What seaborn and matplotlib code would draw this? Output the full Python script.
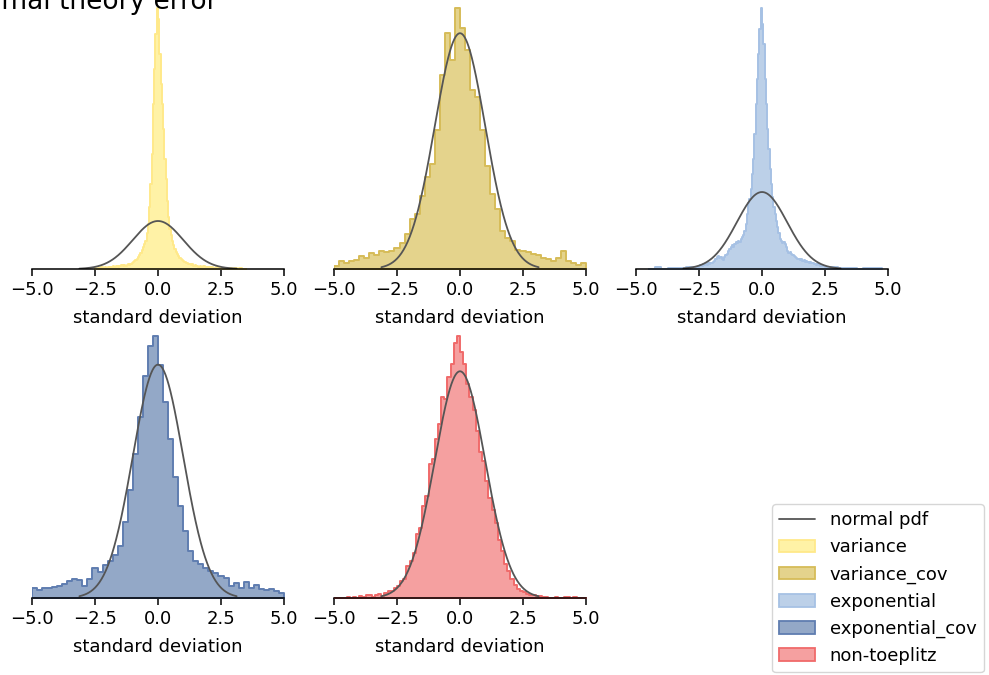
import numpy as np
import pandas as pd
import matplotlib
matplotlib.use("Agg")
import matplotlib.pyplot as plt
import seaborn as sns
from matplotlib.lines import Line2D
from matplotlib.patches import Patch

# ---------------- data ----------------
series_names = ["variance", "variance_cov", "exponential", "exponential_cov", "non-toeplitz"]

# bin edges per series
variance_edges = np.linspace(-2.5, 3.5, 121)
variance_cov_edges = np.linspace(-5.0, 5.0, 51)
exponential_edges = np.concatenate([np.linspace(-4.5, -2.5, 9),
                                    np.linspace(-2.5, 2.5, 101)[1:],
                                    np.linspace(2.5, 4.75, 10)[1:]])
exponential_cov_edges = np.linspace(-5.0, 5.0, 51)
non_toeplitz_edges = np.linspace(-5.0, 5.0, 81)

# bin heights (count units)
variance_counts = [
    1, 0, 1, 1, 1, 2, 1, 1, 2, 1,
    2, 1, 2, 2, 3, 2, 2, 3, 2, 3,
    3, 4, 3, 4, 3, 4, 5, 4, 5, 6,
    7, 8, 9, 10, 12, 14, 16, 19, 22, 25,
    28, 36, 45, 62, 85, 115, 165, 200, 235, 261,
    250, 215, 185, 165, 140, 110, 90, 68, 52, 40,
    34, 28, 24, 20, 17, 15, 13, 11, 10, 9,
    8, 7, 6, 6, 5, 5, 4, 5, 3, 4,
    3, 3, 2, 3, 2, 2, 3, 2, 2, 1,
    2, 2, 1, 2, 1, 1, 2, 1, 1, 1,
    1, 1, 0, 1, 1, 0, 1, 0, 1, 0,
    1, 0, 1, 0, 1, 0, 1, 0, 0, 0,
]
variance_cov_counts = [
    8, 23, 18, 23, 28, 38, 33, 48, 43, 53,
    51, 53, 63, 78, 103, 148, 163, 218, 273, 313,
    413, 578, 703, 623, 778, 718, 653, 533, 513, 413,
    308, 223, 178, 113, 93, 83, 58, 53, 51, 45,
    43, 33, 31, 23, 33, 53, 25, 18, 13, 18,
]
exponential_counts = [
    0, 2, 0, 1, 1, 1, 2, 2,
    3, 4, 3, 5, 4, 5, 4, 6, 5, 6,
    6, 7, 8, 10, 12, 13, 11, 12, 10, 9,
    12, 14, 15, 18, 20, 22, 24, 22, 25, 27,
    26, 28, 27, 30, 32, 34, 38, 45, 55, 66,
    70, 80, 95, 110, 135, 165, 190, 215, 240, 261,
    245, 225, 190, 165, 140, 120, 100, 85, 72, 62,
    55, 48, 42, 36, 30, 28, 26, 27, 25, 22,
    18, 16, 17, 15, 14, 13, 12, 11, 10, 10,
    9, 10, 8, 9, 7, 8, 7, 6, 7, 6,
    6, 5, 5, 4, 5, 4, 3, 4, 3, 3,
    2, 2, 1, 1, 1, 0, 1, 1, 1,
]
exponential_cov_counts = [
    30, 25, 30, 30, 32, 35, 42, 52, 58, 55,
    35, 58, 88, 78, 98, 110, 128, 155, 225, 322,
    430, 538, 660, 750, 780, 695, 585, 475, 360, 275,
    200, 140, 110, 100, 88, 80, 75, 65, 60, 35,
    45, 30, 48, 30, 38, 28, 24, 28, 22, 15,
]
non_toeplitz_counts = [
    0, 0, 0, 0, 3, 0, 3, 0, 5, 3,
    10, 8, 3, 8, 12, 5, 15, 20, 22, 30,
    35, 50, 58, 95, 110, 135, 190, 210, 275, 305,
    400, 415, 475, 520, 600, 595, 660, 700, 760, 782,
    735, 700, 640, 600, 560, 500, 435, 410, 350, 300,
    262, 225, 172, 140, 102, 80, 57, 40, 27, 22,
    17, 12, 10, 8, 5, 6, 2, 3, 0, 0,
    2, 0, 0, 2, 3, 0, 2, 0, 0, 0,
]

# height of the normal pdf peak in the same count units
normal_peaks = [48, 703, 77, 695, 677]

edges_list = [variance_edges, variance_cov_edges, exponential_edges,
              exponential_cov_edges, non_toeplitz_edges]
counts_list = [variance_counts, variance_cov_counts, exponential_counts,
               exponential_cov_counts, non_toeplitz_counts]

xticks = [-5.0, -2.5, 0.0, 2.5, 5.0]
xlabel = "standard deviation"
title = "Normal theory error"

# ---------------- style ----------------
face_colors = ["#fff2a6", "#e4d38c", "#bcd0e8", "#93a8c7", "#f5a0a0"]
edge_colors = ["#ffe98a", "#d6bc58", "#a6c1e4", "#5f7db0", "#f06a6a"]
line_color = "#555555"

sns.set_style("ticks")
plt.rcParams["font.family"] = ["DejaVu Sans"]
plt.rcParams["text.color"] = "black"
plt.rcParams["axes.labelcolor"] = "black"
plt.rcParams["xtick.color"] = "black"

fig = plt.figure(figsize=(9.89, 6.75), dpi=100)

W, H = 989.0, 675.0
col_left = [32, 334, 636]
ax_w = 252
row_bottom = [269, 598]
row_h = [274, 275]

positions = [(0, 0), (0, 1), (0, 2), (1, 0), (1, 1)]
axes = []
for (r, c) in positions:
    left = col_left[c] / W
    bottom = (H - row_bottom[r]) / H
    ax = fig.add_axes([left, bottom, ax_w / W, row_h[r] / H])
    axes.append(ax)

xs = np.linspace(-3.12, 3.12, 300)
pdf0 = 1.0 / np.sqrt(2 * np.pi)

for i, ax in enumerate(axes):
    edges = [float(e) for e in edges_list[i]]
    counts = np.asarray(counts_list[i], dtype=float)
    centers = [0.5 * (edges[k] + edges[k + 1]) for k in range(len(edges) - 1)]
    df = pd.DataFrame({"x": centers, "w": counts})
    sns.histplot(data=df, x="x", weights="w", bins=edges, element="step",
                 fill=True, stat="count", ax=ax,
                 facecolor=face_colors[i], edgecolor=edge_colors[i],
                 alpha=1.0, linewidth=1.4)
    pdf = np.exp(-0.5 * xs ** 2) / np.sqrt(2 * np.pi)
    sns.lineplot(x=xs, y=pdf / pdf0 * normal_peaks[i], ax=ax,
                 color=line_color, linewidth=1.3, estimator=None)
    ax.set_xlim(-5, 5)
    ax.set_ylim(0, counts.max() * 1.05)
    ax.set_xticks(xticks)
    ax.set_xticklabels([f"{t:.1f}".replace("-", "\u2212") for t in xticks], fontsize=13)
    ax.set_yticks([])
    ax.set_ylabel("")
    ax.set_xlabel(xlabel, fontsize=13, labelpad=7)
    ax.tick_params(axis="x", length=5, width=1.1, colors="black")
    sns.despine(ax=ax, left=True)
    ax.spines["bottom"].set_linewidth(1.1)
    ax.spines["bottom"].set_color("black")
    ax.set_facecolor("white")

fig.text(-45 / W, 1 - 9 / H, title, fontsize=19, ha="left", va="baseline", color="black")

handles = [Line2D([0], [0], color=line_color, linewidth=1.3)]
for i in range(5):
    handles.append(Patch(facecolor=face_colors[i], edgecolor=edge_colors[i], linewidth=1.3))
labels = ["normal pdf"] + series_names
fig.legend(handles, labels, loc="upper left",
           bbox_to_anchor=(772 / W, 1 - 504 / H), bbox_transform=fig.transFigure,
           borderaxespad=0, fontsize=13, frameon=True)

fig.savefig("out.png", dpi=100)
